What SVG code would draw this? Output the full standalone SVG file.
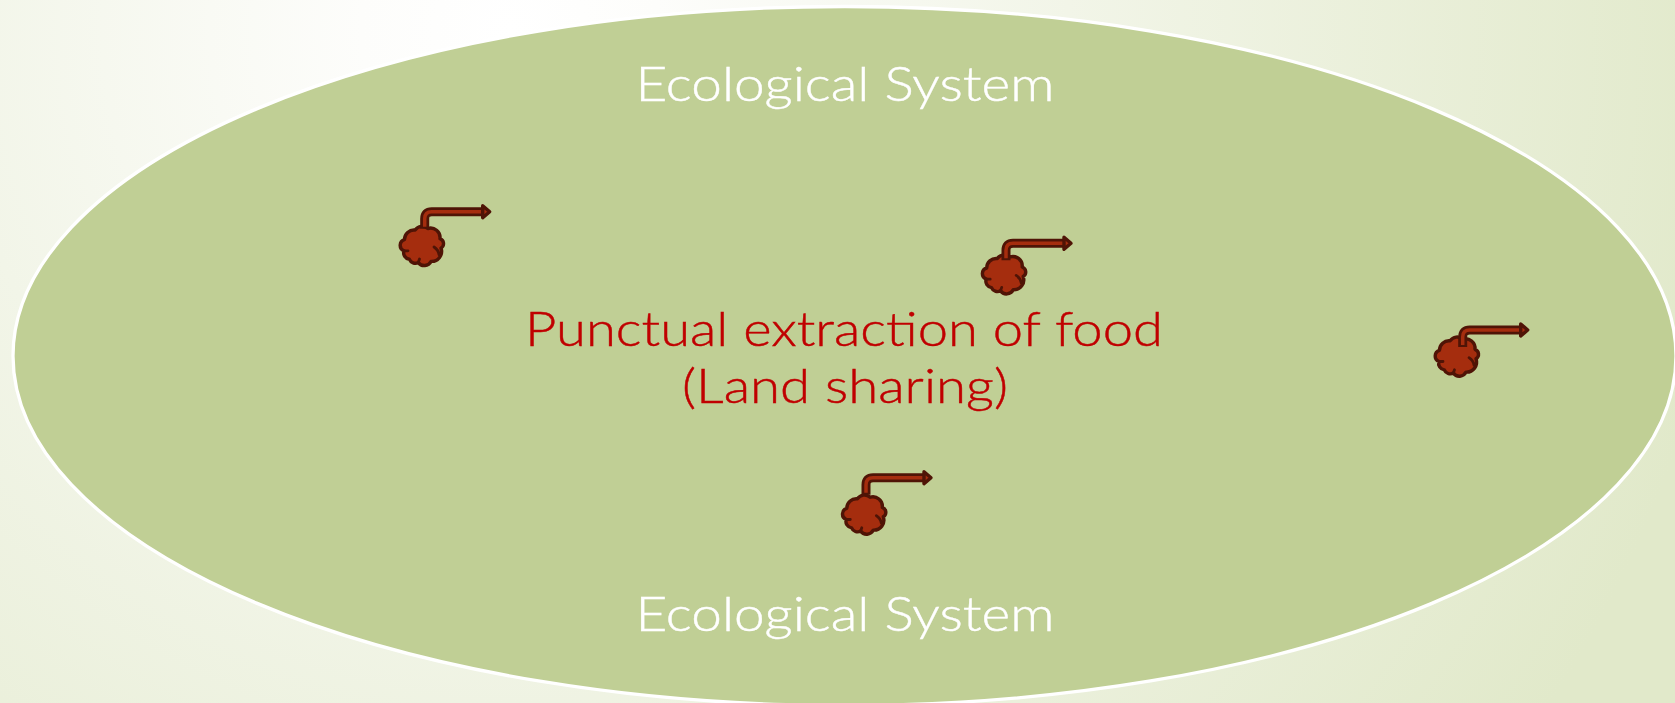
<svg xmlns="http://www.w3.org/2000/svg" width="1675" height="703" viewBox="0 0 1675 703">
<style>
.lbl{font-family:"Lato","Liberation Sans",sans-serif;font-weight:300;font-size:48px;stroke-width:0.45px}
.w{fill:#ffffff;stroke:#ffffff}.r{fill:#c00000;stroke:#c00000}
.out{fill:none;stroke:#4f1406;stroke-width:9}
.inn{fill:none;stroke:#a52d0e;stroke-width:3.5}
.blob{fill:#a52d0e;stroke:#4f1406;stroke-width:3.4;stroke-linejoin:round}
.wr{fill:none;stroke:#4f1406;stroke-width:2.8;stroke-linecap:round}
</style>
<defs>
<radialGradient id="bg" gradientUnits="userSpaceOnUse" cx="510" cy="30" r="1240">
<stop offset="0" stop-color="#ffffff"/><stop offset="0.12" stop-color="#fdfdfb"/><stop offset="0.45" stop-color="#f2f5e8"/><stop offset="1" stop-color="#e1e9ca"/>
</radialGradient>
<g id="blob">
<path class="blob" d="M-18,-6.4A9.5,9.5 0 0 1 -7.4,-15.9A8.5,8.5 0 0 1 5.3,-17.5A9.5,9.5 0 0 1 17.5,-7.4A5.3,5.3 0 0 1 18.5,2.1A10,10 0 0 1 8.5,15.4A7.4,7.4 0 0 1 -4.2,16.4A6.4,6.4 0 0 1 -13.2,13.2A6.4,6.4 0 0 1 -18.5,4.8A5.9,5.9 0 0 1 -18,-6.4Z"/>
<path class="wr" d="M11.5,1Q16,4 16.5,8.5M-18.5,4.8H-14.5M-4.2,16.4L-3,13"/>
</g>
<g id="pipe">
<path class="out" d="M0,17V7Q0,0 7,0H59"/>
<path class="inn" d="M0,15V7Q0,0 7,0H60"/>
<path d="M58,-6L65,0L58,6Z" fill="#a52d0e" stroke="#4f1406" stroke-width="3.4" stroke-linejoin="round"/>
</g>
</defs>
<rect id="background" width="1675" height="703" fill="url(#bg)"/>
<g id="ecosystem"><ellipse cx="844.5" cy="356" rx="831.5" ry="349.5" fill="#c0cf95" stroke="#ffffff" stroke-width="3.3"/></g>
<g id="connectors"></g>
<g id="label-top"><text class="lbl w" x="635.5" y="100.5" textLength="419" lengthAdjust="spacingAndGlyphs">Ecological System</text></g>
<g id="label-bottom"><text class="lbl w" x="635.5" y="630.5" textLength="419" lengthAdjust="spacingAndGlyphs">Ecological System</text></g>
<g id="label-centre">
<text class="lbl r" x="525" y="345.5" textLength="638" lengthAdjust="spacingAndGlyphs">Punctual extraction of food</text>
<text class="lbl r" x="682" y="402.5" textLength="326" lengthAdjust="spacingAndGlyphs">(Land sharing)</text>
</g>
<g id="extraction-1"><use href="#blob" transform="translate(422.5,246)"/><use href="#pipe" transform="translate(424.7,211.7)"/></g>
<g id="extraction-2"><use href="#blob" transform="translate(1004.7,274.4)"/><use href="#pipe" transform="translate(1006,243.3)"/></g>
<g id="extraction-3"><use href="#blob" transform="translate(1457.5,356.7)"/><use href="#pipe" transform="translate(1462.7,330)"/></g>
<g id="extraction-4"><use href="#blob" transform="translate(864.8,514.7)"/><use href="#pipe" transform="translate(866,477.7)"/></g>
</svg>
